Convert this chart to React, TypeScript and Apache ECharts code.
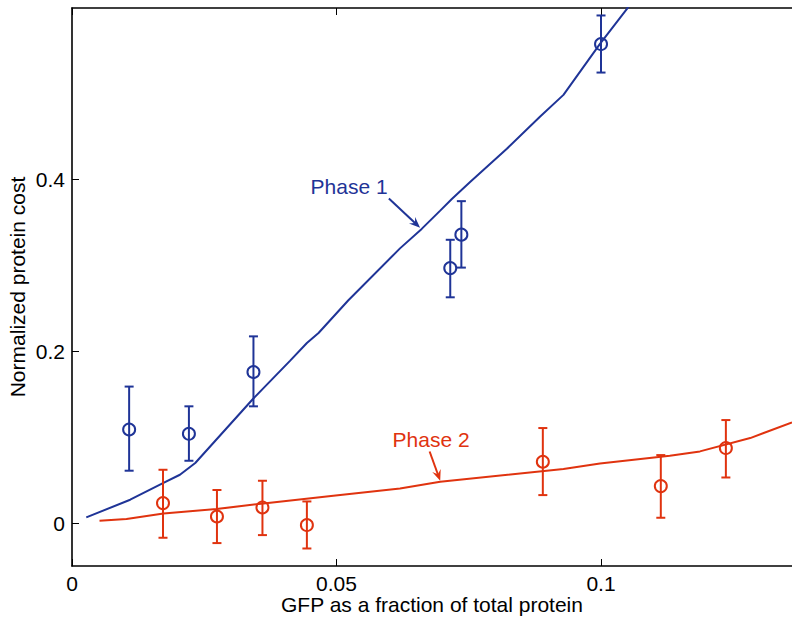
import React, { useEffect, useRef } from 'react';
import * as echarts from 'echarts';

const xTicks = [0, 0.05, 0.1];
const yTicks = [0, 0.2, 0.4];

// Model curves
const phase1Curve: [number, number][] = [
  [0.0027, 0.0066], [0.011, 0.0272], [0.0171, 0.0462], [0.0204, 0.0563], [0.0233, 0.07],
  [0.0342, 0.1445], [0.0412, 0.189], [0.0444, 0.2098], [0.0466, 0.2214], [0.0522, 0.2593],
  [0.062, 0.32], [0.0661, 0.3427], [0.0696, 0.364], [0.0718, 0.3776], [0.0752, 0.397],
  [0.0822, 0.436], [0.0885, 0.4736], [0.0929, 0.4988], [0.0998, 0.5583], [0.1049, 0.599],
  [0.107, 0.62],
];
const phase2Curve: [number, number][] = [
  [0.0052, 0.0027], [0.0103, 0.0047], [0.0173, 0.0112], [0.0273, 0.0163], [0.0362, 0.0229],
  [0.0494, 0.0318], [0.062, 0.0403], [0.0696, 0.0481], [0.0929, 0.063], [0.0998, 0.0695],
  [0.113, 0.0784], [0.1187, 0.0835], [0.1282, 0.099], [0.1361, 0.1173],
];

// Measured points
const phase1X = [0.0108, 0.0221, 0.0343, 0.0715, 0.0736, 0.1];
const phase1Y = [0.109, 0.104, 0.176, 0.297, 0.336, 0.558];
const phase1Low = [0.061, 0.0726, 0.136, 0.263, 0.2976, 0.5248];
const phase1High = [0.159, 0.136, 0.2175, 0.33, 0.375, 0.5913];

const phase2X = [0.0172, 0.0274, 0.036, 0.0444, 0.089, 0.1113, 0.1236];
const phase2Y = [0.0233, 0.0077, 0.0182, -0.0023, 0.0714, 0.0431, 0.0874];
const phase2Low = [-0.0171, -0.0233, -0.014, -0.0296, 0.0326, 0.0062, 0.0531];
const phase2High = [0.0621, 0.0385, 0.0493, 0.0252, 0.1107, 0.0792, 0.12];

// Annotations (data coordinates)
const annotations = [
  { text: 'Phase 1', color: '#1f3497', textAt: [0.0451, 0.3923], tail: [0.0599, 0.378], head: [0.0658, 0.344] },
  { text: 'Phase 2', color: '#e0330f', textAt: [0.0606, 0.0979], tail: [0.0676, 0.0834], head: [0.0696, 0.0493] },
];

const BLUE = '#1f3497';
const RED = '#e0330f';
const FONT = '"Liberation Sans", Arial, Helvetica, sans-serif';
const FS = 21;

function fmt(v: number) {
  return v === 0 ? '0' : String(+v.toFixed(3));
}

function errorSeries(xs: number[], lo: number[], hi: number[], color: string) {
  return {
    type: 'custom',
    data: xs.map((x, i) => [x, lo[i], hi[i]]),
    encode: { x: 0, y: [1, 2] },
    clip: false,
    z: 3,
    renderItem: (params: any, api: any) => {
      const x = api.value(0);
      const p1 = api.coord([x, api.value(1)]);
      const p2 = api.coord([x, api.value(2)]);
      const w = 4.5;
      const st = { stroke: color, lineWidth: 2 };
      return {
        type: 'group',
        children: [
          { type: 'line', shape: { x1: p1[0], y1: p1[1], x2: p2[0], y2: p2[1] }, style: st },
          { type: 'line', shape: { x1: p1[0] - w, y1: p1[1], x2: p1[0] + w, y2: p1[1] }, style: st },
          { type: 'line', shape: { x1: p2[0] - w, y1: p2[1], x2: p2[0] + w, y2: p2[1] }, style: st },
        ],
      };
    },
  };
}

export default function App() {
  const ref = useRef<HTMLDivElement>(null);
  useEffect(() => {
    if (!ref.current) return;
    const chart = echarts.init(ref.current, undefined, { renderer: 'svg' });
    const axisLine = { show: true, onZero: false, lineStyle: { color: '#000', width: 1.6 } };
    chart.setOption({
      animation: false,
      backgroundColor: '#fff',
      grid: { left: 72, right: 0, top: 8, bottom: 51, containLabel: false, outerBoundsMode: 'none' },
      xAxis: [
        {
          type: 'value', min: 0, max: 0.1361, position: 'bottom',
          name: 'GFP as a fraction of total protein', nameLocation: 'middle', nameGap: 28, nameMoveOverlap: false,
          nameTextStyle: { color: '#000', fontSize: FS, fontFamily: FONT },
          axisLine,
          axisTick: { show: true, inside: true, length: 7, customValues: xTicks, lineStyle: { color: '#000', width: 1 } },
          axisLabel: { customValues: xTicks, formatter: fmt, color: '#000', fontSize: FS, fontFamily: FONT, margin: 7 },
          splitLine: { show: false },
        },
        {
          type: 'value', min: 0, max: 0.1361, position: 'top',
          axisLine,
          axisTick: { show: true, inside: true, length: 7, customValues: xTicks, lineStyle: { color: '#000', width: 1 } },
          axisLabel: { show: false },
          splitLine: { show: false },
        },
      ],
      yAxis: {
        type: 'value', min: -0.05, max: 0.6,
        name: 'Normalized protein cost', nameLocation: 'middle', nameGap: 44, nameMoveOverlap: false,
        nameTextStyle: { color: '#000', fontSize: FS, fontFamily: FONT },
        axisLine,
        axisTick: { show: true, inside: true, length: 7, customValues: yTicks, lineStyle: { color: '#000', width: 1 } },
        axisLabel: { customValues: yTicks, formatter: fmt, color: '#000', fontSize: FS, fontFamily: FONT, margin: 7 },
        splitLine: { show: false },
      },
      series: [
        { type: 'line', data: phase1Curve, showSymbol: false, symbol: 'none', lineStyle: { color: BLUE, width: 2 }, z: 2 },
        { type: 'line', data: phase2Curve, showSymbol: false, symbol: 'none', lineStyle: { color: RED, width: 2 }, z: 2 },
        errorSeries(phase1X, phase1Low, phase1High, BLUE),
        errorSeries(phase2X, phase2Low, phase2High, RED),
        {
          type: 'scatter', data: phase1X.map((x, i) => [x, phase1Y[i]]), symbol: 'circle', symbolSize: 12,
          itemStyle: { color: 'rgba(0,0,0,0)', borderColor: BLUE, borderWidth: 2, opacity: 1 }, z: 4,
        },
        {
          type: 'scatter', data: phase2X.map((x, i) => [x, phase2Y[i]]), symbol: 'circle', symbolSize: 12,
          itemStyle: { color: 'rgba(0,0,0,0)', borderColor: RED, borderWidth: 2, opacity: 1 }, z: 4,
        },
      ],
    });

    const graphics: any[] = [];
    annotations.forEach((a) => {
      const tp = chart.convertToPixel({ gridIndex: 0 }, a.textAt) as number[];
      const t = chart.convertToPixel({ gridIndex: 0 }, a.tail) as number[];
      const h = chart.convertToPixel({ gridIndex: 0 }, a.head) as number[];
      graphics.push({
        type: 'text', x: tp[0], y: tp[1],
        style: { text: a.text, fill: a.color, fontSize: FS, fontFamily: FONT, verticalAlign: 'middle', align: 'left' },
      });
      const dx = h[0] - t[0], dy = h[1] - t[1];
      const len = Math.sqrt(dx * dx + dy * dy);
      const ux = dx / len, uy = dy / len;
      const px = -uy, py = ux;
      const L = 11, W = 4.5;
      const bx = h[0] - ux * L, by = h[1] - uy * L;
      graphics.push({
        type: 'line', shape: { x1: t[0], y1: t[1], x2: h[0] - ux * 4, y2: h[1] - uy * 4 },
        style: { stroke: a.color, lineWidth: 2 },
      });
      graphics.push({
        type: 'polygon',
        shape: { points: [[h[0], h[1]], [bx + px * W, by + py * W], [h[0] - ux * 7, h[1] - uy * 7], [bx - px * W, by - py * W]] },
        style: { fill: a.color },
      });
    });
    chart.setOption({ graphic: graphics });
    return () => chart.dispose();
  }, []);
  return <div ref={ref} style={{ position: 'fixed', left: 0, top: 0, width: 792, height: 617 }} />;
}
